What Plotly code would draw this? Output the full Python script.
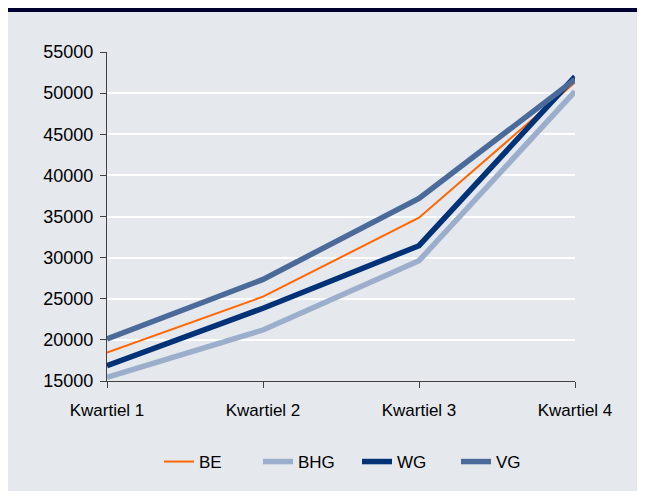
import plotly.graph_objects as go

categories = ["Kwartiel 1", "Kwartiel 2", "Kwartiel 3", "Kwartiel 4"]
be = [18450, 25250, 34850, 51300]
bhg = [15450, 21200, 29630, 50200]
wg = [16850, 23850, 31450, 52000]
vg = [20100, 27350, 37200, 51650]
y_ticks = [15000, 20000, 25000, 30000, 35000, 40000, 45000, 50000, 55000]

series = [
    ("BE", be, "#FF6600", 2),
    ("BHG", bhg, "#9BAECB", 5.5),
    ("WG", wg, "#003278", 5.5),
    ("VG", vg, "#4A6A9A", 5.5),
]

fig = go.Figure()
for name, vals, color, w in series:
    fig.add_trace(go.Scatter(x=categories, y=vals, name=name, mode="lines",
                             line=dict(color=color, width=w)))

# page has an 8px body margin, so the figure is 8px smaller
W, H = 637, 483
L, R, T, B = 99, 70, 44, 110
pw, ph = W - L - R, H - T - B

def px_x(p):
    return (p - L) / pw

def px_y(p):
    return (H - B - p) / ph

fig.update_layout(
    template="none",
    width=W, height=H,
    margin=dict(l=L, r=R, t=T, b=B, pad=0, autoexpand=False),
    paper_bgcolor="#E5E8ED",
    plot_bgcolor="#E5E8ED",
    font=dict(family="Liberation Sans, Arial, sans-serif", size=17, color="#000000"),
    showlegend=True,
    legend=dict(orientation="h", x=px_x(349), xanchor="center", y=px_y(454), yanchor="middle",
                bgcolor="rgba(0,0,0,0)", font=dict(size=17), entrywidth=54,
                tracegroupgap=0),
    xaxis=dict(type="category", range=[0, 3], showgrid=False, zeroline=False,
               showline=True, linecolor="#404040", linewidth=1,
               ticks="outside", ticklen=6, tickcolor="#404040", tickwidth=1,
               ticklabelstandoff=8),
    yaxis=dict(range=[15000, 55000], tickvals=y_ticks, tickformat="d",
               tickfont=dict(size=18), showgrid=True,
               gridcolor="#FFFFFF", gridwidth=1.5, zeroline=False,
               showline=True, linecolor="#404040", linewidth=1,
               ticks="outside", ticklen=6, tickcolor="#404040", tickwidth=1,
               ticklabelstandoff=3),
    shapes=[
        dict(type="rect", xref="paper", yref="paper", layer="below",
             x0=px_x(-2), x1=px_x(W + 2), y0=px_y(4), y1=px_y(-2),
             fillcolor="#000033", line=dict(width=0)),
    ],
)

fig.write_html("out.html")
